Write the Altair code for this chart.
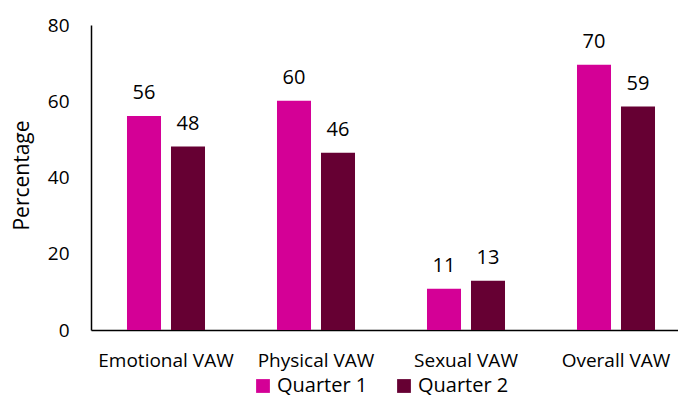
import altair as alt
import pandas as pd

categories = ["Emotional VAW", "Physical VAW", "Sexual VAW", "Overall VAW"]
series = ["Quarter 1", "Quarter 2"]
q1_values = [56.1, 60.1, 10.8, 69.6]
q2_values = [48.1, 46.5, 12.9, 58.6]
q1_labels = ["56", "60", "11", "70"]
q2_labels = ["48", "46", "13", "59"]
colors = ["#D40096", "#660033"]
y_ticks = [0, 20, 40, 60, 80]

rows = []
for i, c in enumerate(categories):
    rows.append({"category": c, "series": series[0], "value": q1_values[i], "label": q1_labels[i]})
    rows.append({"category": c, "series": series[1], "value": q2_values[i], "label": q2_labels[i]})
df = pd.DataFrame(rows)

FONT = "Open Sans"

x = alt.X(
    "category:N",
    sort=categories,
    scale=alt.Scale(paddingInner=0, paddingOuter=0, range=[0, 600]),
    axis=alt.Axis(
        title=None, labelAngle=0, ticks=False, domainColor="black", domainWidth=1.5,
        labelFont=FONT, labelFontSize=19, labelColor="black",
        labelBaseline="alphabetic", labelPadding=36,
    ),
)
xo = alt.XOffset(
    "series:N", sort=series,
    scale=alt.Scale(paddingInner=0.227, paddingOuter=0.818),
)
y = alt.Y(
    "value:Q",
    scale=alt.Scale(domain=[0, 80], nice=False),
    axis=alt.Axis(
        title="Percentage", values=y_ticks, ticks=False, grid=False,
        domainColor="black", domainWidth=1.5,
        labelFont=FONT, labelFontSize=19, labelColor="black", labelPadding=22,
        titleFont=FONT, titleFontSize=21, titleFontWeight="normal", titleColor="black",
        titleAngle=270, titleAlign="center", titleBaseline="alphabetic",
        titleX=-63, titleY=150,
    ),
)
color = alt.Color(
    "series:N", sort=series,
    scale=alt.Scale(domain=series, range=colors),
    legend=alt.Legend(
        title=None, orient="none", direction="horizontal", legendX=162, legendY=351,
        symbolType="square", symbolSize=190, symbolStrokeWidth=0,
        labelFont=FONT, labelFontSize=20, labelColor="black", labelOffset=4,
        columnPadding=26,
    ),
)

bars = alt.Chart(df).mark_bar().encode(x=x, xOffset=xo, y=y, color=color)
text = alt.Chart(df).mark_text(
    dy=-17, baseline="alphabetic", font=FONT, fontSize=20, color="black"
).encode(x=x, xOffset=xo, y="value:Q", text="label:N")

chart = alt.layer(bars, text).properties(
    width=587, height=305,
    autosize=alt.AutoSizeParams(type="none"),
    padding={"left": 83, "top": 17, "right": 0, "bottom": 69},
).configure_view(stroke=None)

chart.save("out.html", embed_options={"renderer": "svg", "actions": False})
